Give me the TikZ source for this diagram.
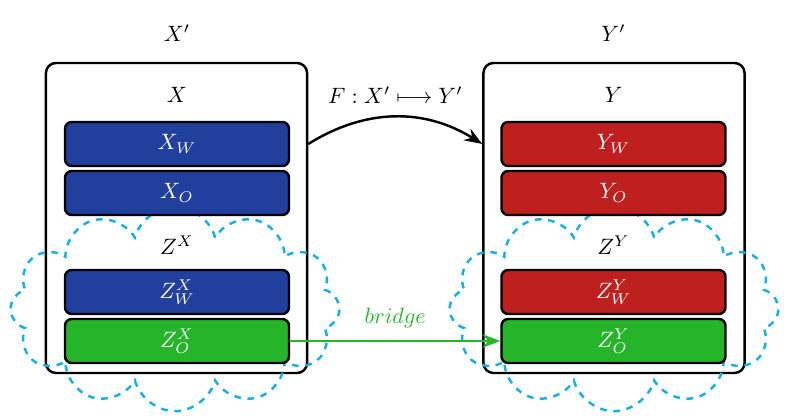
\documentclass[tikz,border=0pt]{standalone}
\usepackage{amsmath}
\usetikzlibrary{shapes.symbols,arrows.meta,positioning}
\definecolor{setblue}{RGB}{33,64,158}
\definecolor{setred}{RGB}{190,32,32}
\definecolor{setgreen}{RGB}{38,181,42}
\definecolor{cloudcyan}{RGB}{20,174,234}
\begin{document}
\begin{tikzpicture}[x=0.45pt,y=-0.45pt]
\tikzset{space/.style={draw, line width=1.1pt, rounded corners=4.5pt, minimum width=117.5pt, minimum height=139.5pt}} % outer set
\tikzset{part/.style={draw, line width=1.1pt, rounded corners=3pt, minimum width=100.8pt, minimum height=19.8pt, text=white}} % coloured part
\tikzset{fog/.style={cloud, cloud puffs=12, draw=cloudcyan, dashed, line width=1.1pt, minimum width=148pt, minimum height=92pt}} % hidden part
\useasboundingbox (0,0) rectangle (790,419);
% left side
\node[space] (lbox) at (176.5,218) {};
\node (lprime) at (177,33) {$X'$};
\node (lx) at (177,95) {$X$};
\node (lz) at (177,245) {$Z^X$};
\node[fog] (lfog) at (175,309) {};
\node[part, fill=setblue] (lxw) at (177,144) {$X_W$};
\node[part, fill=setblue] (lxo) at (177,193) {$X_O$};
\node[part, fill=setblue] (lzw) at (177,292) {$Z^X_W$};
\node[part, fill=setgreen] (lzo) at (177,341) {$Z^X_O$};
% right side
\node[space] (rbox) at (614,218) {};
\node (rprime) at (613.5,33) {$Y'$};
\node (ry) at (613.5,95) {$Y$};
\node (rz) at (613.5,245) {$Z^Y$};
\node[fog] (rfog) at (614,309) {};
\node[part, fill=setred] (ryw) at (613.5,144) {$Y_W$};
\node[part, fill=setred] (ryo) at (613.5,193) {$Y_O$};
\node[part, fill=setred] (rzw) at (613.5,292) {$Z^Y_W$};
\node[part, fill=setgreen] (rzo) at (613.5,341) {$Z^Y_O$};
% maps
\draw[line width=1.1pt, -{Stealth[length=8pt,width=6pt]}] (lbox.east |- lxw.east) to[bend left=32] node[above=2pt] (fmap) {$F : X' \longmapsto Y'$} (rbox.west |- ryw.west);
\draw[setgreen, line width=1.3pt, -{Stealth[length=8pt,width=6pt]}] (lzo) -- node[above=2pt] (bridge) {$bridge$} (rzo);
\end{tikzpicture}
\end{document}
